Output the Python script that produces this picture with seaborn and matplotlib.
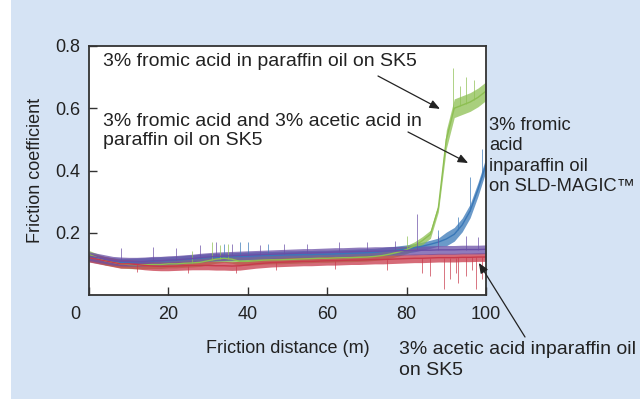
import numpy as np
import pandas as pd
import matplotlib
matplotlib.use("Agg")
import matplotlib.pyplot as plt
import matplotlib.transforms as mtrans
import seaborn as sns
from matplotlib.patches import Rectangle

# friction distance (m), every 2 m
dist = list(range(0, 101, 2))

# friction coefficient (band centre)
red = [0.120, 0.115, 0.110, 0.105, 0.100, 0.100, 0.098, 0.095, 0.093, 0.092,
       0.092, 0.093, 0.094, 0.095, 0.095, 0.095, 0.094, 0.094, 0.093, 0.094,
       0.097, 0.100, 0.102, 0.104, 0.105, 0.106, 0.107, 0.108, 0.108, 0.109,
       0.110, 0.110, 0.111, 0.112, 0.112, 0.113, 0.114, 0.114, 0.115, 0.116,
       0.117, 0.118, 0.118, 0.119, 0.120, 0.120, 0.120, 0.121, 0.121, 0.122,
       0.122]
purple = [0.125, 0.120, 0.115, 0.110, 0.108, 0.107, 0.107, 0.108, 0.110, 0.110,
          0.112, 0.113, 0.115, 0.117, 0.120, 0.122, 0.124, 0.125, 0.126, 0.127,
          0.128, 0.129, 0.130, 0.131, 0.132, 0.133, 0.134, 0.135, 0.135, 0.136,
          0.137, 0.138, 0.138, 0.139, 0.140, 0.140, 0.141, 0.141, 0.142, 0.142,
          0.143, 0.143, 0.144, 0.144, 0.145, 0.145, 0.145, 0.146, 0.146, 0.146,
          0.147]
green = [0.130, 0.120, 0.110, 0.105, 0.100, 0.098, 0.097, 0.097, 0.098, 0.098,
         0.100, 0.100, 0.102, 0.103, 0.105, 0.110, 0.115, 0.118, 0.115, 0.108,
         0.108, 0.110, 0.112, 0.113, 0.113, 0.114, 0.115, 0.116, 0.117, 0.118,
         0.118, 0.119, 0.120, 0.120, 0.121, 0.122, 0.124, 0.127, 0.132, 0.138,
         0.146, 0.158, 0.175, 0.195, 0.280, 0.500, 0.600, 0.610, 0.620, 0.635,
         0.655]
blue = [0.120, 0.115, 0.110, 0.107, 0.105, 0.105, 0.106, 0.107, 0.108, 0.110,
        0.110, 0.112, 0.114, 0.116, 0.118, 0.120, 0.121, 0.122, 0.123, 0.124,
        0.125, 0.126, 0.127, 0.127, 0.128, 0.129, 0.129, 0.130, 0.130, 0.131,
        0.131, 0.132, 0.133, 0.134, 0.135, 0.136, 0.137, 0.140, 0.142, 0.145,
        0.148, 0.152, 0.157, 0.163, 0.170, 0.180, 0.195, 0.225, 0.270, 0.340,
        0.420]

# half width of the noisy band for each trace
band = {"red": 0.014, "purple": 0.014, "green": 0.013, "blue": 0.013}
band_top = {"green": 0.03, "blue": 0.022}

# single spikes (distance, coefficient) seen in the picture
spikes = {
    "red": [(12, 0.075), (25, 0.07), (37, 0.07), (47, 0.08), (62, 0.085), (75, 0.08),
            (84, 0.07), (86, 0.06), (89.5, 0.02), (91, 0.05), (92.5, 0.07), (93, 0.04),
            (95, 0.06), (96.5, 0.08), (97.5, 0.02), (99, 0.05)],
    "purple": [(8, 0.15), (16, 0.155), (22, 0.15), (28, 0.16), (32, 0.17), (36, 0.165),
               (43, 0.16), (49, 0.165), (55, 0.165), (63, 0.17), (70, 0.17), (77, 0.175),
               (82.6, 0.26), (88, 0.19), (95, 0.19), (98, 0.185)],
    "green": [(26, 0.14), (31, 0.17), (33, 0.16), (35, 0.165), (80, 0.19), (91.8, 0.73),
              (93.5, 0.67), (95, 0.70), (97, 0.69)],
    "blue": [(34, 0.165), (38, 0.17), (40, 0.17), (45, 0.165), (88, 0.21), (93, 0.25),
             (96, 0.38), (99, 0.47)],
}

colors = {"red": "#c83a4b", "purple": "#6a4fa6", "green": "#8dbf52", "blue": "#3a78b8"}

df = pd.DataFrame({"dist": dist, "red": red, "purple": purple, "green": green, "blue": blue})

sns.set_style("ticks")
plt.rcParams["font.family"] = ["Liberation Sans", "DejaVu Sans"]

fig = plt.figure(figsize=(6.4, 3.99), dpi=100)
fig.patch.set_facecolor("#d5e3f4")
fig.patches.append(Rectangle((0, 0), 11 / 640, 1, transform=fig.transFigure,
                             facecolor="white", edgecolor="none"))
ax = fig.add_axes([89 / 640, 1 - 295 / 399, 397 / 640, 249 / 399])
ax.set_facecolor("white")

for name in ["blue", "green", "red", "purple"]:
    c = colors[name]
    w = np.full(len(dist), band[name])
    if name in band_top:
        w[df["dist"] >= 90] = band_top[name]
    ax.fill_between(df["dist"], df[name] - w, df[name] + w, color=c, alpha=0.75, lw=0)
    sns.lineplot(data=df, x="dist", y=name, color=c, lw=1.0, ax=ax)
    for sx, sy in spikes[name]:
        base = np.interp(sx, dist, df[name])
        ax.vlines(sx, min(base, sy), max(base, sy), color=c, lw=0.7, alpha=0.7)

ax.set_xlim(0, 100)
ax.set_ylim(0, 0.8)
ax.set_xticks([0, 20, 40, 60, 80, 100])
ax.set_yticks([0.2, 0.4, 0.6, 0.8])
ax.set_yticklabels(["0.2", "0.4", "0.6", "0.8"])
ax.tick_params(direction="in", length=6, width=1, colors="#333333", labelsize=13,
               labelcolor="#222222")
ax.tick_params(axis="x", pad=8)
ax.tick_params(axis="y", pad=6)
for s in ax.spines.values():
    s.set_color("#333333")
    s.set_linewidth(1.3)

# the "0" sits left of the corner in the original
zero = ax.get_xticklabels()[0]
zero.set_transform(zero.get_transform() + mtrans.ScaledTranslation(-0.14, 0, fig.dpi_scale_trans))

ax.set_xlabel("Friction distance (m)", fontsize=13, color="#222222")
ax.set_ylabel("Friction coefficient", fontsize=13, color="#222222")
ax.xaxis.set_label_coords(0.5, -0.18)
ax.yaxis.set_label_coords(-0.113, 0.5)

txt = dict(color="#222222", va="center", ha="left")
fig.text(103 / 640, 1 - 62 / 399, "3% fromic acid in paraffin oil on SK5", fontsize=14, **txt)
fig.text(103 / 640, 1 - 131 / 399, "3% fromic acid and 3% acetic acid in\nparaffin oil on SK5",
         fontsize=14, linespacing=1.15, **txt)
fig.text(489 / 640, 1 - 156 / 399, "3% fromic\nacid\ninparaffin oil\non SLD-MAGIC\u2122",
         fontsize=13.2, linespacing=1.27, **txt)
fig.text(399 / 640, 1 - 360 / 399, "3% acetic acid inparaffin oil\non SK5",
         fontsize=14, linespacing=1.25, **txt)

arrow = dict(arrowstyle="-|>,head_length=0.6,head_width=0.25", color="#222222", lw=0.9,
             shrinkA=0, shrinkB=0)
ax.annotate("", xy=(88.4, 0.598), xytext=(378 / 640, 1 - 76 / 399),
            textcoords="figure fraction", arrowprops=arrow, annotation_clip=False)
ax.annotate("", xy=(95.5, 0.424), xytext=(408 / 640, 1 - 132 / 399),
            textcoords="figure fraction", arrowprops=arrow, annotation_clip=False)
ax.annotate("", xy=(98.2, 0.103), xytext=(525 / 640, 1 - 337 / 399),
            textcoords="figure fraction", arrowprops=arrow, annotation_clip=False)

fig.savefig("out.png", dpi=100, facecolor=fig.get_facecolor())
